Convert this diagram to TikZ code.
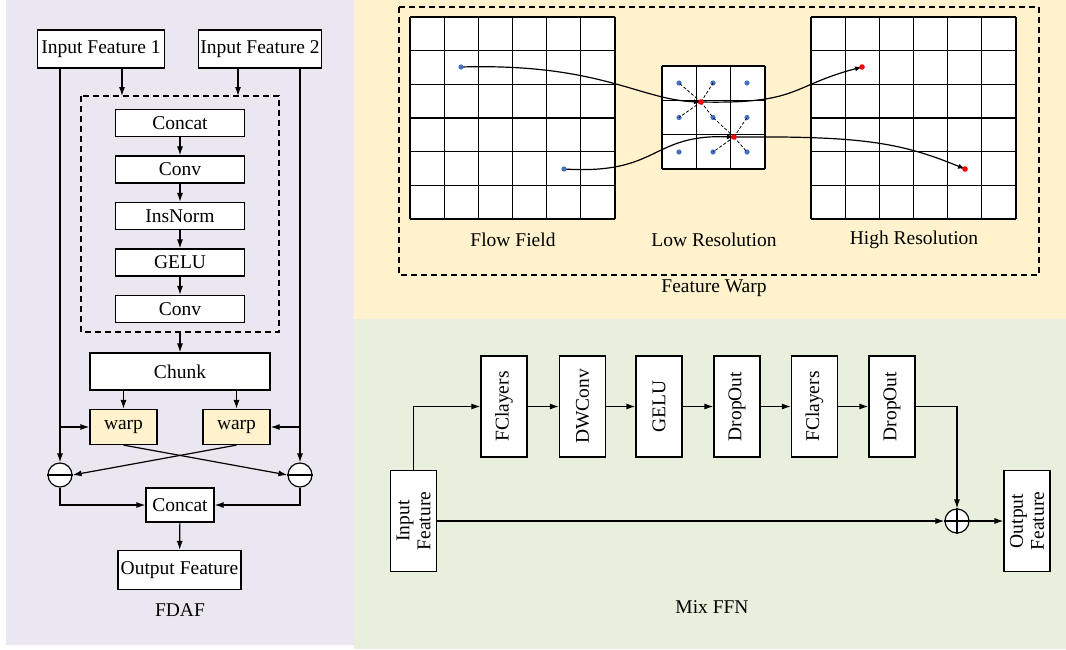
\documentclass[tikz,border=0pt]{standalone}
\usepackage{fontspec}
\setmainfont{Liberation Serif}
\usetikzlibrary{arrows.meta,positioning}
\definecolor{lavbg}{HTML}{EAE7F0}
\definecolor{yelbg}{HTML}{FFF2CC}
\definecolor{grnbg}{HTML}{E8EFDC}
\definecolor{dotblue}{HTML}{4472C4}
\tikzset{
  blk/.style={draw, fill=white, line width=1.2pt, inner sep=0pt, font=\fontsize{19.5}{21}\selectfont},
  vblk/.style={blk, minimum width=101pt, minimum height=46pt, rotate=90, align=center},
  opnode/.style={draw, fill=white, circle, line width=1.2pt, minimum size=24pt, inner sep=0pt},
  lbl/.style={font=\fontsize{19.5}{21}\selectfont},
  arr/.style={-{Latex[length=9pt,width=6pt]}, line width=1.2pt},
  dbox/.style={line width=1.2pt, dash pattern=on 6pt off 4pt},
}
\begin{document}
\begin{tikzpicture}[x=1pt, y=-1pt, line width=1.2pt]
\useasboundingbox (0,0) rectangle (1066,649);
% panels
\fill[lavbg] (6,0) rectangle (354,645);
\fill[yelbg] (354,0) rectangle (1066,319);
\fill[grnbg] (354,319) rectangle (1066,649);

% ---- FDAF ----
\node[blk, minimum width=127pt, minimum height=38pt] (in1) at (101,49) {Input Feature 1};
\node[blk, minimum width=123pt, minimum height=38pt] (in2) at (260,49) {Input Feature 2};
\draw[dbox] (81,96) rectangle (279,332);
\coordinate (dtop1) at (122,96);
\coordinate (dtop2) at (238,96);
\coordinate (dbot) at (180,332);
\draw[arr] (in1.south -| dtop1) -- (dtop1);
\draw[arr] (in2.south -| dtop2) -- (dtop2);
\node[blk, minimum width=129pt, minimum height=27pt] (cat1) at (180,123) {Concat};
\node[blk, minimum width=129pt, minimum height=27pt] (conv1) at (180,169.5) {Conv};
\node[blk, minimum width=129pt, minimum height=27pt] (norm) at (180,216) {InsNorm};
\node[blk, minimum width=129pt, minimum height=27pt] (gelu1) at (180,262.5) {GELU};
\node[blk, minimum width=129pt, minimum height=27pt] (conv2) at (180,309) {Conv};
\foreach \a/\b in {cat1/conv1, conv1/norm, norm/gelu1, gelu1/conv2}
  \draw[arr] (\a) -- (\b);
\node[blk, minimum width=180pt, minimum height=37pt] (chunk) at (180,371.5) {Chunk};
\draw[arr] (dbot) -- (chunk);
\node[blk, fill=yelbg, minimum width=67pt, minimum height=35pt] (wp1) at (123.5,427) {warp};
\node[blk, fill=yelbg, minimum width=67pt, minimum height=35pt] (wp2) at (236.5,427) {warp};
\draw[arr] (chunk.south -| wp1) -- (wp1);
\draw[arr] (chunk.south -| wp2) -- (wp2);
\node[opnode] (sub1) at (60,475) {};
\node[opnode] (sub2) at (300,475) {};
\draw (sub1.west) -- (sub1.east);
\draw (sub2.west) -- (sub2.east);
\draw[arr] (in1.south -| sub1) -- (sub1);
\draw[arr] (in2.south -| sub2) -- (sub2);
\draw[arr] (wp1 -| sub1) -- (wp1);
\draw[arr] (wp2 -| sub2) -- (wp2);
\draw[arr] (wp1.south) -- (sub2.west);
\draw[arr] (wp2.south) -- (sub1.east);
\node[blk, minimum width=68pt, minimum height=34pt] (cat2) at (180,505) {Concat};
\draw[arr] (sub1) |- (cat2);
\draw[arr] (sub2) |- (cat2);
\node[blk, minimum width=123pt, minimum height=39pt] (out1) at (179.5,570) {Output Feature};
\draw[arr] (cat2) -- (out1);
\node[lbl] (fdaf) at (180,610) {FDAF};

% ---- Feature Warp ----
\draw[dbox] (399,7) rectangle (1039,275);
\foreach \ox in {410,811}{
  \fill[white] (\ox,17) rectangle ++(205,202);
  \foreach \i in {0,...,6}{
    \draw (\ox+\i*34.17,17) -- ++(0,202);
    \draw (\ox,17+\i*33.67) -- ++(205,0);
  }
}
\fill[white] (662,66) rectangle (765,169);
\foreach \i in {0,...,3}{
  \draw (662+\i*34.33,66) -- ++(0,103);
  \draw (662,66+\i*34.33) -- ++(103,0);
}
\foreach \cx in {679,713,747}
  \foreach \cy in {83,117.5,152}
    \fill[dotblue] (\cx,\cy) circle (2.6pt);
\coordinate (src1) at (461,67);
\coordinate (src2) at (564,169);
\coordinate (mid1) at (701,102);
\coordinate (mid2) at (734,137);
\coordinate (dst1) at (862,67);
\coordinate (dst2) at (965,169);
\foreach \p in {(679,83),(713,83),(679,117.5),(713,117.5)}
  \draw[line width=0.8pt, dash pattern=on 3pt off 2pt] (mid1) -- \p;
\foreach \p in {(713,117.5),(747,117.5),(713,152),(747,152)}
  \draw[line width=0.8pt, dash pattern=on 3pt off 2pt] (mid2) -- \p;
\draw[arr, -{Latex[length=7pt,width=5pt]}] (src1) .. controls (600,63) and (640,100) .. (mid1);
\draw[arr, -{Latex[length=7pt,width=5pt]}] (src2) .. controls (660,175) and (650,134) .. (mid2);
\draw[arr, -{Latex[length=7pt,width=5pt]}] (mid1) .. controls (800,104) and (790,86) .. (dst1);
\draw[arr, -{Latex[length=7pt,width=5pt]}] (mid2) .. controls (860,136) and (900,142) .. (dst2);
\fill[dotblue] (src1) circle (2.6pt);
\fill[dotblue] (src2) circle (2.6pt);
\foreach \p in {mid1,mid2,dst1,dst2}
  \fill[red] (\p) circle (2.8pt);
\node[lbl] (ffl) at (513,240) {Flow Field};
\node[lbl] (lrl) at (714,240) {Low Resolution};
\node[lbl] (hrl) at (914,240) {High Resolution};
\node[lbl] (fwl) at (714,288) {Feature Warp};

% ---- Mix FFN ----
\node[vblk] (inf) at (413.5,521) {Input\\Feature};
\node[vblk] (fc1) at (504,406.5) {FClayers};
\node[vblk] (dw) at (582.5,406.5) {DWConv};
\node[vblk] (gelu2) at (659,406.5) {GELU};
\node[vblk] (drop1) at (737,406.5) {DropOut};
\node[vblk] (fc2) at (814.5,406.5) {FClayers};
\node[vblk] (drop2) at (892,406.5) {DropOut};
\node[vblk] (outf) at (1027,521) {Output\\Feature};
\node[opnode] (add) at (957,521) {};
\draw (add.north) -- (add.south) (add.west) -- (add.east);
\draw[arr] (inf) |- (fc1);
\foreach \a/\b in {fc1/dw, dw/gelu2, gelu2/drop1, drop1/fc2, fc2/drop2}
  \draw[arr] (\a) -- (\b);
\draw[arr] (drop2) -| (add);
\draw[arr] (inf) -- (add);
\draw[arr] (add) -- (outf);
\node[lbl] (ffnl) at (712,607) {Mix FFN};
\end{tikzpicture}
\end{document}
